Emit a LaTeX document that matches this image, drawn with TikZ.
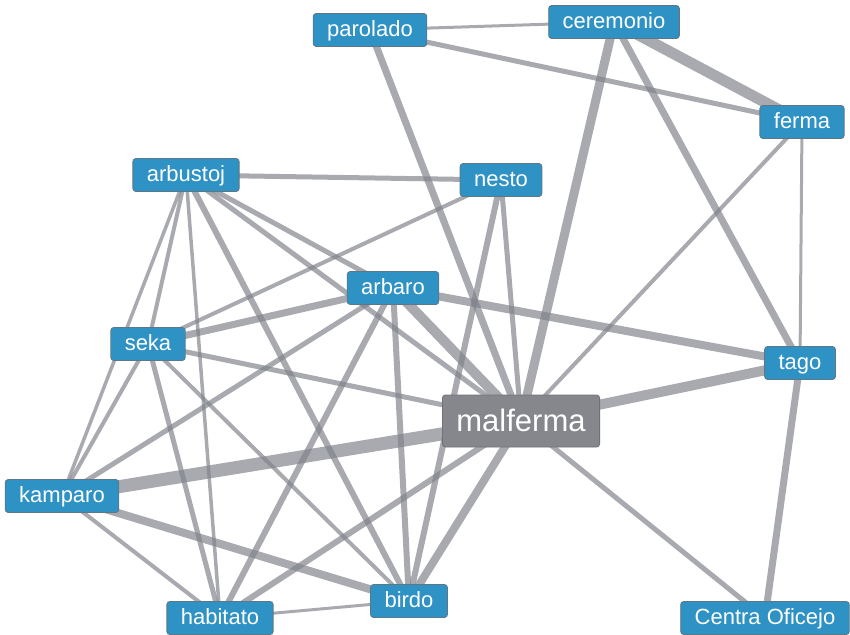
\documentclass[tikz,border=0pt]{standalone}
\usepackage{fontspec}
\setmainfont{Liberation Sans}
\usetikzlibrary{backgrounds}
\definecolor{nblue}{RGB}{47,146,196}
\definecolor{nborder}{RGB}{95,118,132}
\definecolor{mgray}{RGB}{133,135,140}
\definecolor{mborder}{RGB}{112,114,120}
\definecolor{edgec}{RGB}{128,130,138}
\begin{document}
\begin{tikzpicture}[x=1pt,y=-1pt,
 nd/.style={draw=nborder, fill=nblue, text=white, rounded corners=3pt, line width=0.8pt,
   inner xsep=14pt, inner ysep=0pt, minimum height=33pt, text height=17pt, text depth=4pt,
   font=\fontsize{22}{24}\selectfont},
 big/.style={nd, fill=mgray, draw=mborder, minimum height=52pt, text height=25pt, text depth=5pt,
   font=\fontsize{31}{34}\selectfont},
 lnk/.style={draw=edgec, opacity=0.68, line width=#1},
]
\useasboundingbox (0,0) rectangle (850,634);
\node[nd] (parolado) at (370,30) {parolado};
\node[nd] (ceremonio) at (614,22) {ceremonio};
\node[nd] (ferma) at (802,122) {ferma};
\node[nd] (arbustoj) at (186,175) {arbustoj};
\node[nd] (nesto) at (501,180) {nesto};
\node[nd] (arbaro) at (393,288) {arbaro};
\node[nd] (seka) at (148,344) {seka};
\node[nd] (tago) at (800,363) {tago};
\node[big] (malferma) at (521,421) {malferma};
\node[nd] (kamparo) at (62,496) {kamparo};
\node[nd] (habitato) at (220,618) {habitato};
\node[nd] (birdo) at (409,601) {birdo};
\node[nd] (centra) at (765,618) {Centra Oficejo};
\begin{pgfonlayer}{background}
\draw[lnk=3pt] (parolado.center) -- (ceremonio.center);
\draw[lnk=5pt] (parolado.center) -- (ferma.center);
\draw[lnk=7pt] (parolado.center) -- (malferma.center);
\draw[lnk=11pt] (ceremonio.center) -- (ferma.center);
\draw[lnk=9pt] (ceremonio.center) -- (malferma.center);
\draw[lnk=7pt] (ceremonio.center) -- (tago.center);
\draw[lnk=3pt] (ferma.center) -- (tago.center);
\draw[lnk=4pt] (ferma.center) -- (malferma.center);
\draw[lnk=5pt] (arbustoj.center) -- (nesto.center);
\draw[lnk=4pt] (arbustoj.center) -- (seka.center);
\draw[lnk=3.5pt] (arbustoj.center) -- (kamparo.center);
\draw[lnk=3.5pt] (arbustoj.center) -- (habitato.center);
\draw[lnk=6pt] (arbustoj.center) -- (birdo.center);
\draw[lnk=5pt] (arbustoj.center) -- (arbaro.center);
\draw[lnk=5pt] (arbustoj.center) -- (malferma.center);
\draw[lnk=4pt] (nesto.center) -- (seka.center);
\draw[lnk=5pt] (nesto.center) -- (malferma.center);
\draw[lnk=6pt] (nesto.center) -- (birdo.center);
\draw[lnk=7pt] (arbaro.center) -- (seka.center);
\draw[lnk=5pt] (arbaro.center) -- (kamparo.center);
\draw[lnk=6pt] (arbaro.center) -- (habitato.center);
\draw[lnk=6pt] (arbaro.center) -- (birdo.center);
\draw[lnk=8pt] (arbaro.center) -- (tago.center);
\draw[lnk=10pt] (arbaro.center) -- (malferma.center);
\draw[lnk=4pt] (seka.center) -- (kamparo.center);
\draw[lnk=5pt] (seka.center) -- (habitato.center);
\draw[lnk=4pt] (seka.center) -- (birdo.center);
\draw[lnk=5pt] (seka.center) -- (malferma.center);
\draw[lnk=13pt] (kamparo.center) -- (malferma.center);
\draw[lnk=4pt] (kamparo.center) -- (habitato.center);
\draw[lnk=8pt] (kamparo.center) -- (birdo.center);
\draw[lnk=3pt] (habitato.center) -- (birdo.center);
\draw[lnk=6pt] (habitato.center) -- (malferma.center);
\draw[lnk=8pt] (birdo.center) -- (malferma.center);
\draw[lnk=10pt] (malferma.center) -- (tago.center);
\draw[lnk=5pt] (malferma.center) -- (centra.center);
\draw[lnk=7pt] (tago.center) -- (centra.center);
\end{pgfonlayer}
\end{tikzpicture}
\end{document}
